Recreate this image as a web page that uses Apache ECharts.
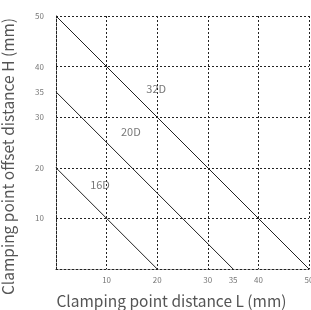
<!DOCTYPE html>
<html>
<head>
<meta charset="utf-8">
<script src="https://cdn.jsdelivr.net/npm/echarts@6/dist/echarts.min.js"></script>
<style>
  html, body { margin: 0; padding: 0; background: #fff; }
  #chart { width: 311px; height: 310px; }
</style>
</head>
<body>
<div id="chart"></div>
<script>
// line endpoints (L, H)
const line32D = [[0, 50], [50, 0]]
const line20D = [[0, 35], [35, 0]]
const line16D = [[0, 20], [20, 0]]
const lineNames = ['32D', '20D', '16D']
// label positions in data coords
const labelPos = [[19.8, 35.6], [14.8, 27.1], [8.7, 16.6]]
const tickLabels = [10, 20, 30, 35, 40, 50]

const font = '"Noto Sans CJK SC", "Noto Sans", sans-serif'
const dotted = { color: '#222', type: [2, 2], width: 1 }

const chart = echarts.init(document.getElementById('chart'))

const tickLabel = (margin) => ({
  fontFamily: font, fontSize: 8, color: '#777', margin,
  formatter: v => tickLabels.includes(v) ? String(v) : ''
})

const valueAxis = (name, extra) => Object.assign({
  type: 'value', min: 0, max: 50, interval: 5,
  name, nameLocation: 'middle',
  axisLine: { show: true, lineStyle: dotted },
  axisTick: { show: false },
  splitLine: { show: false }
}, extra)

const gridAxis = () => ({
  type: 'value', min: 0, max: 50, interval: 10,
  axisLine: { show: false }, axisTick: { show: false }, axisLabel: { show: false },
  splitLine: { show: true, lineStyle: dotted }
})

const lineSeries = (data) => ({
  type: 'line', data, symbol: 'none', silent: true,
  lineStyle: { color: '#222', width: 1 }
})

chart.setOption({
  animation: false,
  grid: { left: 56, right: 2, top: 16, bottom: 41, outerBoundsMode: 'none' },
  xAxis: [
    valueAxis('Clamping point distance L (mm)', {
      nameGap: 24,
      nameTextStyle: { fontFamily: font, fontSize: 15.5, color: '#555', padding: [0, 22, 0, 0] },
      axisLabel: tickLabel(7)
    }),
    Object.assign(gridAxis(), { position: 'bottom' })
  ],
  yAxis: [
    valueAxis('Clamping point offset distance H (mm)', {
      nameGap: 40,
      nameTextStyle: { fontFamily: font, fontSize: 15.5, color: '#555', padding: [0, 28, 0, 0] },
      axisLabel: tickLabel(12)
    }),
    Object.assign(gridAxis(), { position: 'left' })
  ],
  series: [
    lineSeries(line32D),
    lineSeries(line20D),
    lineSeries(line16D),
    {
      type: 'scatter', symbolSize: 0, silent: true,
      data: labelPos.map((p, i) => ({ value: p, name: lineNames[i] })),
      label: {
        show: true, position: 'inside', formatter: '{b}',
        fontFamily: font, fontSize: 11, color: '#555'
      }
    }
  ]
})
</script>
</body>
</html>
